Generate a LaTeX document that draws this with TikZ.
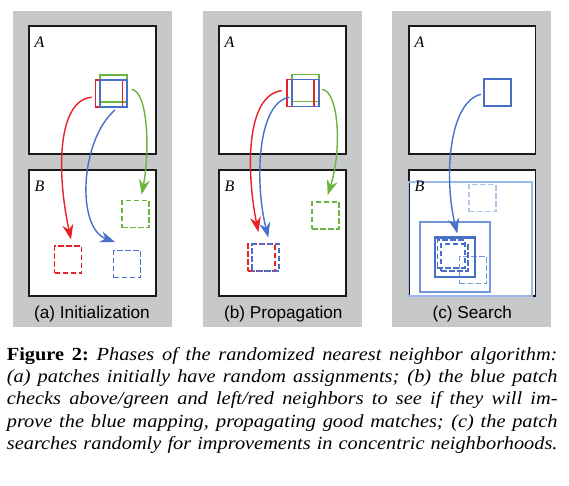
\documentclass[tikz,border=0pt]{standalone}
\usepackage{fontspec}
\setmainfont{Liberation Serif}
\newfontfamily\capserif[FakeStretch=1.1]{Liberation Serif}
\newfontfamily\capsans{Liberation Sans}
\usetikzlibrary{arrows.meta}
\definecolor{panelgray}{RGB}{199,200,202}
\definecolor{pred}{RGB}{232,32,40}
\definecolor{pgreen}{RGB}{108,180,64}
\definecolor{pblue}{RGB}{72,112,200}
\definecolor{medblue}{RGB}{112,152,216}
\definecolor{lightblue}{RGB}{155,185,232}
\definecolor{paleblue}{RGB}{172,197,236}
\tikzset{
  imgbox/.style={draw=black!90, line width=1.8pt, fill=white},
  patch/.style={draw, rectangle, line width=1.8pt, inner sep=0pt, minimum size=27pt},
  dpatch/.style={patch, dash pattern=on 5.5pt off 2.5pt},
  conn/.style={line width=1.4pt, -{Stealth[length=15pt,width=11pt,inset=5pt]}},
  imglabel/.style={font=\fontsize{16}{16}\selectfont\itshape, anchor=base west, inner sep=0pt},
  subcap/.style={font=\capsans\fontsize{17.2}{17.2}\selectfont, anchor=base, inner sep=0pt},
}
\begin{document}
\begin{tikzpicture}[x=1pt,y=-1pt]
\useasboundingbox (0,0) rectangle (569,485);
% panel backgrounds
\fill[panelgray] (13,11) rectangle (172,327);
\fill[panelgray] (203,11) rectangle (362,327);
\fill[panelgray] (392,11) rectangle (551,327);
% image boxes
\foreach \ox in {0,190}{
  \draw[imgbox] (29+\ox,26) rectangle (156+\ox,154);
  \draw[imgbox] (29+\ox,170) rectangle (156+\ox,296);
}
\draw[imgbox] (409,26) rectangle (535.5,154);
\draw[imgbox] (409,170) rectangle (535.5,296);
% labels
\node[imglabel] (la1) at (34.5,47.7) {A};
\node[imglabel] (lb1) at (34.5,191) {B};
\node[imglabel] (la2) at (224.5,47.7) {A};
\node[imglabel] (lb2) at (224.5,191) {B};
\node[imglabel] (la3) at (414.5,47.7) {A};
% ---------- (a) Initialization
\node[patch, draw=pgreen] (ga) at (113.7,88.3) {};
\node[patch, draw=pred] (ra) at (109,93.2) {};
\node[patch, draw=pblue] (ba) at (113.7,93.2) {};
\node[dpatch, draw=pred] (rda) at (68,259.5) {};
\node[dpatch, draw=pgreen] (gda) at (135.5,214) {};
\node[dpatch, draw=pblue] (bda) at (127,264) {};
\coordinate (ra0) at (91.7,97.3);  \coordinate (ra1) at (71,239.5);
\coordinate (ba0) at (115,110);    \coordinate (ba1) at (115,242);
\coordinate (ga0) at (131.7,89.3); \coordinate (ga1) at (141.7,194.5);
\draw[conn, pred] (ra0) .. controls (58,100) and (56,170) .. (ra1);
\draw[conn, pblue] (ba0) .. controls (80,140) and (76,228) .. (ba1);
\draw[conn, pgreen] (ga0) .. controls (148,92) and (150,150) .. (ga1);
\node[subcap] (capa) at (92,318.3) {(a) Initialization};
% ---------- (b) Propagation
\node[patch, draw=pgreen] (gb) at (305.8,88) {};
\node[patch, draw=pred] (rb) at (300.8,93) {};
\node[patch, draw=pblue] (bb) at (305.8,93) {};
\node[dpatch, draw=pred] (rdb) at (261.2,257.7) {};
\node[dpatch, draw=pblue, dash phase=3pt] (bdb) at (265.7,257.7) {};
\node[dpatch, draw=pgreen] (gdb) at (325.8,215.3) {};
\coordinate (rb0) at (281.7,90.7);  \coordinate (rb1) at (258.3,232);
\coordinate (bb0) at (289.3,97.3);  \coordinate (bb1) at (268.3,237.5);
\coordinate (gb0) at (322.3,89.3);  \coordinate (gb1) at (327.7,195);
\draw[conn, pred] (rb0) .. controls (246,95) and (246,170) .. (rb1);
\draw[conn, pblue] (bb0) .. controls (258,102) and (254,180) .. (bb1);
\draw[conn, pgreen] (gb0) .. controls (339,92) and (342,150) .. (gb1);
\node[subcap] (capb) at (283.3,318.3) {(b) Propagation};
% ---------- (c) Search
\node[patch, draw=pblue] (bc) at (497.8,92.3) {};
\node[dpatch, draw=paleblue] (pdc) at (482.3,198) {};
\node[patch, draw=lightblue, minimum width=123.2pt, minimum height=114pt] (bigc) at (470.1,239) {};
\node[patch, draw=medblue, minimum width=70.6pt, minimum height=69.7pt] (midc) at (455,257.2) {};
\node[dpatch, draw=medblue] (mdc) at (473,270) {};
\node[patch, draw=pblue, line width=2.5pt, minimum width=40.2pt, minimum height=39.5pt] (smc) at (455.1,257.3) {};
\node[dpatch, draw=pblue, minimum size=27.5pt] (d1c) at (451.2,254) {};
\node[dpatch, draw=pblue] (d2c) at (454.7,257.3) {};
\node[imglabel] (lb3) at (414.5,191) {B};
\coordinate (bc0) at (481,94.3); \coordinate (bc1) at (457.3,233.5);
\draw[conn, pblue] (bc0) .. controls (448,102) and (444,180) .. (bc1);
\node[subcap] (capc) at (472.3,318.3) {(c) Search};
% ---------- figure caption
\node[anchor=north west, inner sep=0pt, text width=550.6pt, align=justify,
      font=\capserif\fontsize{18.5}{22.3}\selectfont] (figcap) at (6.7,347)
{\textbf{Figure 2:}\ \textit{Phases of the randomized nearest neighbor algorithm:\linebreak
(a) patches initially have random assignments; (b) the blue patch\linebreak
checks above/green and left/red neighbors to see if they will im-\linebreak
prove the blue mapping, propagating good matches; (c) the patch\linebreak
searches randomly for improvements in concentric neighborhoods.}\parfillskip=0pt\par};
\end{tikzpicture}
\end{document}
